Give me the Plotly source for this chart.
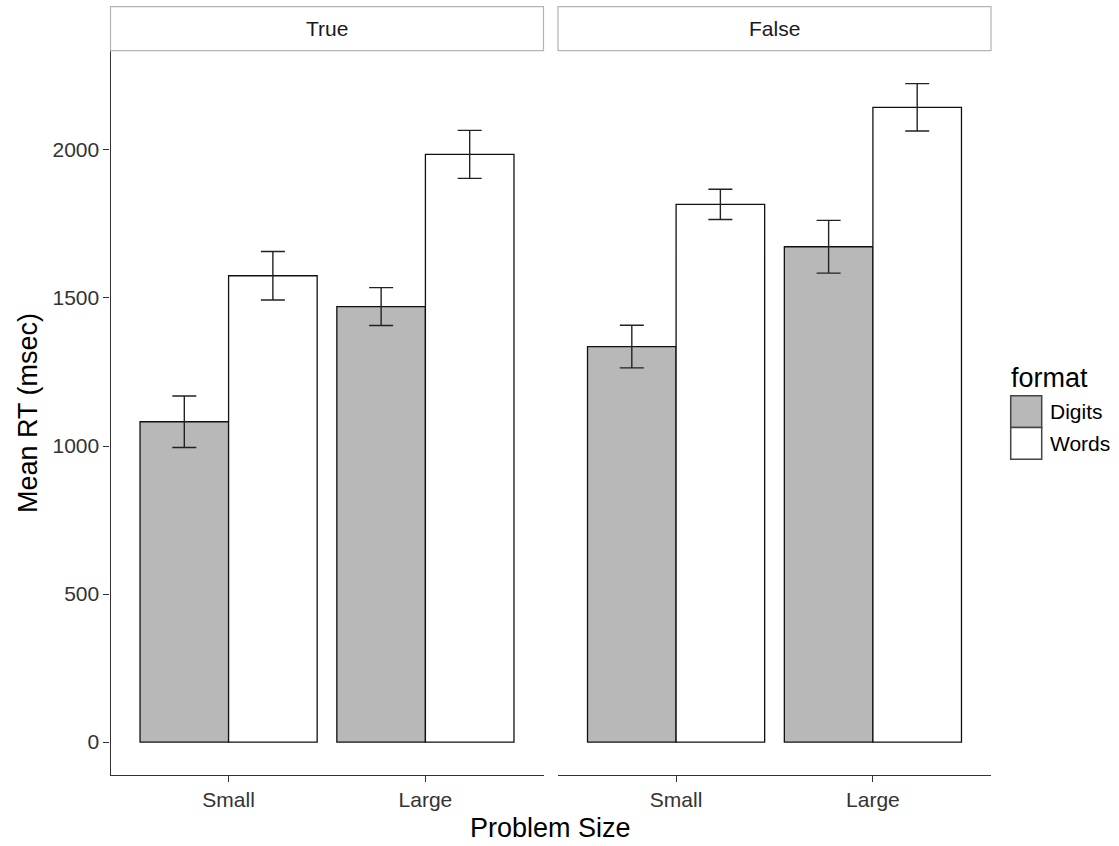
import plotly.graph_objects as go

# ---- data ----
sizes = ["Small", "Large"]
panels = ["True", "False"]
formats = ["Digits", "Words"]
true_digits = [1082, 1471]
true_digits_se = [87, 64]
true_words = [1575, 1985]
true_words_se = [82, 81]
false_digits = [1336, 1673]
false_digits_se = [72, 89]
false_words = [1816, 2144]
false_words_se = [51, 80]

W, H = 1119, 846
FONT = "Liberation Sans, Arial, Helvetica, sans-serif"
fill = {"Digits": "#b8b8b8", "Words": "#ffffff"}

def px_x(p):
    return p / W

def px_y(p):
    return 1 - p / H

fig = go.Figure()
data = {
    ("True", "Digits"): (true_digits, true_digits_se),
    ("True", "Words"): (true_words, true_words_se),
    ("False", "Digits"): (false_digits, false_digits_se),
    ("False", "Words"): (false_words, false_words_se),
}
for i, panel in enumerate(panels):
    xa = "x" if i == 0 else "x2"
    ya = "y" if i == 0 else "y2"
    for f in formats:
        vals, se = data[(panel, f)]
        fig.add_trace(go.Bar(
            x=sizes, y=vals, name=f, xaxis=xa, yaxis=ya,
            marker=dict(color=fill[f], line=dict(color="#111111", width=1.3)),
            error_y=dict(type="data", array=se, visible=True,
                         color="#222222", thickness=1.4, width=12),
            showlegend=False, offsetgroup=f,
        ))

yrange = [-111.2, 2335.2]
ydom = [1 - 775 / H, 1 - 50.7 / H]
tickfont = dict(family=FONT, size=21, color="#333333")

fig.update_layout(
    width=W, height=H,
    margin=dict(l=0, r=0, t=0, b=0),
    paper_bgcolor="white", plot_bgcolor="white",
    barmode="group", bargap=0.1, bargroupgap=0,
    font=dict(family=FONT),
    xaxis=dict(domain=[px_x(110.5), px_x(543.5)], range=[-0.6, 1.6],
               type="category", categoryorder="array", categoryarray=sizes,
               showline=True, linecolor="#333333", linewidth=1.2,
               ticks="outside", ticklen=6, tickcolor="#333333", tickwidth=1.2,
               tickfont=tickfont, showgrid=False, zeroline=False,
               anchor="y", automargin=False),
    xaxis2=dict(domain=[px_x(558), px_x(991)], range=[-0.6, 1.6],
                type="category", categoryorder="array", categoryarray=sizes,
                showline=True, linecolor="#333333", linewidth=1.2,
                ticks="outside", ticklen=6, tickcolor="#333333", tickwidth=1.2,
                tickfont=tickfont, showgrid=False, zeroline=False,
                anchor="y2", automargin=False),
    yaxis=dict(domain=ydom, range=yrange, anchor="x",
               tickvals=[0, 500, 1000, 1500, 2000],
               showline=True, linecolor="#333333", linewidth=1.2,
               ticks="outside", ticklen=6, tickcolor="#333333", tickwidth=1.2,
               tickfont=tickfont, showgrid=False, zeroline=False,
               automargin=False),
    yaxis2=dict(domain=ydom, range=yrange, anchor="x2", matches="y",
                showline=False, showticklabels=False, ticks="",
                showgrid=False, zeroline=False, automargin=False),
)

shapes = []
annotations = []
# facet strips
for (x0, x1), lab in zip([(110.5, 543.5), (558, 991)], panels):
    shapes.append(dict(type="rect", xref="paper", yref="paper",
                       x0=px_x(x0), x1=px_x(x1), y0=px_y(50.7), y1=px_y(6.7),
                       line=dict(color="#b3b3b3", width=1.2), fillcolor="white"))
    annotations.append(dict(text=lab, xref="paper", yref="paper",
                            x=px_x((x0 + x1) / 2), y=px_y(29), showarrow=False,
                            xanchor="center", yanchor="middle",
                            font=dict(family=FONT, size=21, color="#1a1a1a")))

# axis titles
annotations.append(dict(text="Problem Size", xref="paper", yref="paper",
                        x=px_x(550.5), y=px_y(828), showarrow=False,
                        xanchor="center", yanchor="middle",
                        font=dict(family=FONT, size=27, color="black")))
annotations.append(dict(text="Mean RT (msec)", xref="paper", yref="paper",
                        x=px_x(28), y=px_y(413), showarrow=False, textangle=-90,
                        xanchor="center", yanchor="middle",
                        font=dict(family=FONT, size=27, color="black")))

# legend
annotations.append(dict(text="format", xref="paper", yref="paper",
                        x=px_x(1009), y=px_y(378), showarrow=False,
                        xanchor="left", yanchor="middle",
                        font=dict(family=FONT, size=27, color="black")))
for k, f in enumerate(formats):
    top = 395.7 + k * 31.8
    shapes.append(dict(type="rect", xref="paper", yref="paper",
                       x0=px_x(1010.7), x1=px_x(1041.7),
                       y0=px_y(top + 31.8), y1=px_y(top),
                       line=dict(color="#444444", width=1.5), fillcolor=fill[f]))
    annotations.append(dict(text=f, xref="paper", yref="paper",
                            x=px_x(1048), y=px_y(top + 16), showarrow=False,
                            xanchor="left", yanchor="middle",
                            font=dict(family=FONT, size=21, color="black")))

fig.update_layout(shapes=shapes, annotations=annotations)
fig.write_html(
    "out.html",
    config={"displayModeBar": False},
    post_script="document.body.style.margin='0';document.body.style.overflow='hidden';",
)
